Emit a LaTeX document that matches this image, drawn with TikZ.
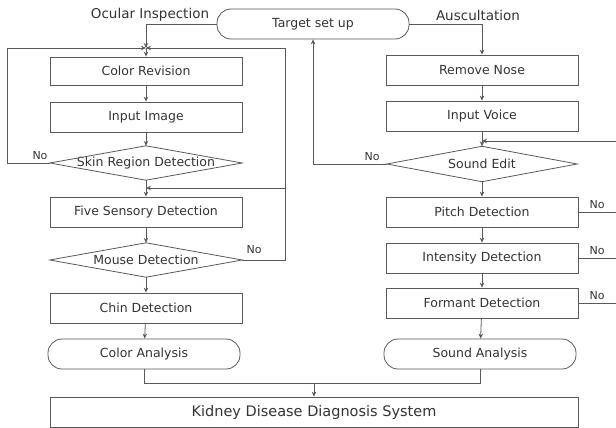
\documentclass[tikz,border=0pt]{standalone}
\usepackage{fontspec}
\setmainfont{DejaVu Sans}
\usetikzlibrary{arrows.meta}
\definecolor{linegray}{gray}{0.35}
\definecolor{txtgray}{gray}{0.2}
\begin{document}
\begin{tikzpicture}[x=1pt,y=-1pt,
  font=\fontsize{12.5}{14}\selectfont, text=txtgray,
  proc/.style={draw=linegray, line width=0.8pt, minimum width=192pt, minimum height=30pt, inner sep=0pt},
  term/.style={proc, rounded corners=14pt},
  decis/.style={minimum width=192pt, minimum height=34pt, inner sep=0pt},
  link/.style={draw=linegray, line width=0.8pt},
  arr/.style={link, -{Stealth[length=5pt,width=4.5pt]}},
  lbl/.style={font=\fontsize{13.5}{15}\selectfont},
  nolbl/.style={font=\fontsize{11}{12}\selectfont}]
\useasboundingbox (0,0) rectangle (616,428);

% column headings
\node[lbl] (hocular) at (150,15) {Ocular Inspection};
\node[lbl] (hauscul) at (478,15) {Auscultation};

% start
\node[term] (tgt) at (313,24) {Target set up};

% ocular inspection column
\node[proc, minimum height=28pt] (cr) at (146,71) {Color Revision};
\node[proc] (ii) at (146,117) {Input Image};
\node[decis] (skin) at (146,163) {Skin Region Detection};
\node[proc] (five) at (146,212) {Five Sensory Detection};
\node[decis] (mouse) at (146,260) {Mouse Detection};
\node[proc] (chin) at (146,308) {Chin Detection};
\node[term] (ca) at (144,354) {Color Analysis};

% auscultation column
\node[proc] (rn) at (482,70) {Remove Nose};
\node[proc] (iv) at (482,116) {Input Voice};
\node[decis, minimum width=190pt, minimum height=35pt] (se) at (482,164) {Sound Edit};
\node[proc] (pd) at (482,212) {Pitch Detection};
\node[proc] (id) at (482,258) {Intensity Detection};
\node[proc] (fd) at (482,303) {Formant Detection};
\node[term] (sa) at (480,354) {Sound Analysis};

% result
\node[proc, minimum width=528pt, font=\fontsize{14.5}{16}\selectfont] (kd) at (314,412) {Kidney Disease Diagnosis System};

% decision outlines
\foreach \d in {skin,mouse,se}
  \draw[link] (\d.west) -- (\d.north) -- (\d.east) -- (\d.south) -- cycle;

% routing points
\coordinate (lt) at (146,48);
\coordinate (lcorner) at (7,163);
\coordinate (ltop) at (7,48);
\coordinate (rtop) at (285,48);
\coordinate (rmid) at (285,188);
\coordinate (rbot) at (285,260);
\coordinate (fj) at (146,188);
\coordinate (join) at (314,383);
\coordinate (vj) at (482,141);
\coordinate (e1) at (622,141);
\coordinate (e2) at (622,212);
\coordinate (e3) at (622,258);
\coordinate (e4) at (622,303);

% ocular flow
\draw[arr] (tgt.west) -| (lt);
\draw[arr] (lt) -- (cr);
\draw[arr] (cr) -- (ii);
\draw[arr] (ii) -- (skin.north);
\draw[link] (skin.west) -- (lcorner) -- (ltop);
\draw[arr] (ltop) -- (lt);
\draw[arr] (rtop) -- (lt);
\draw[arr] (skin.south) -- (five.north);
\draw[link] (mouse.east) -- (rbot) -- (rtop);
\draw[arr] (rmid) -- (fj);
\draw[arr] (five) -- (mouse.north);
\draw[arr] (mouse.south) -- (chin);
\draw[arr] (chin) -- (ca);

% auscultation flow
\draw[arr] (tgt.east) -| (rn.north);
\draw[arr] (rn) -- (iv);
\draw[arr] (iv) -- (se.north);
\draw[arr] (e1) -- (vj);
\draw[link] (e1) -- (e4);
\draw[arr] (se.west) -| (tgt.south);
\draw[arr] (se.south) -- (pd);
\draw[arr] (pd) -- (id);
\draw[arr] (id) -- (fd);
\draw[arr] (fd) -- (sa);
\draw[link] (pd.east) -- (e2);
\draw[link] (id.east) -- (e3);
\draw[link] (fd.east) -- (e4);

% merge into result
\draw[link] (ca.south) |- (join);
\draw[link] (sa.south) |- (join);
\draw[arr] (join) -- (kd.north);

% branch labels
\node[nolbl] (n1) at (40,156) {No};
\node[nolbl] (n2) at (254,250) {No};
\node[nolbl] (n3) at (372,157) {No};
\node[nolbl] (n4) at (597,205) {No};
\node[nolbl] (n5) at (597,251) {No};
\node[nolbl] (n6) at (597,296) {No};
\end{tikzpicture}
\end{document}
